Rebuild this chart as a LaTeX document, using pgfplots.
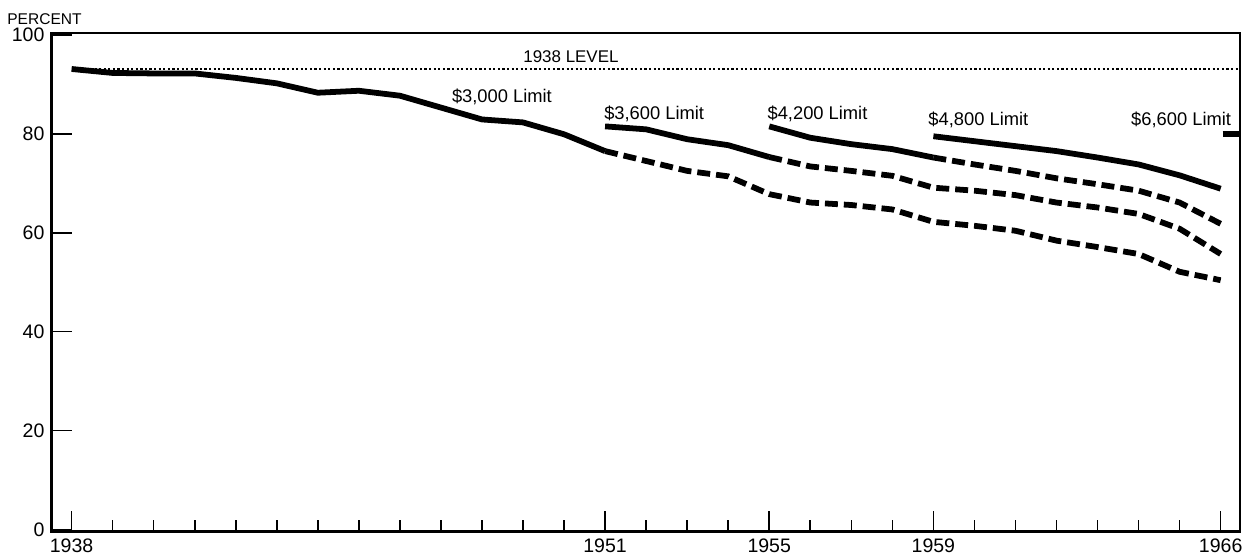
\documentclass[border=0pt]{standalone}
\usepackage{fontspec}
\setmainfont{Liberation Sans}
\usepackage{pgfplots}
\pgfplotsset{compat=1.18}

\begin{document}
\begin{tikzpicture}
\begin{axis}[
    scale only axis,
    width=596.7pt,
    height=250pt,
    xmin=1937.51, xmax=1966.48,
    ymin=-0.4, ymax=100.3,
    xtick={1938,1951,1955,1959,1966},
    minor xtick={1939,1940,1941,1942,1943,1944,1945,1946,1947,1948,1949,1950,
                 1952,1953,1954,1956,1957,1958,1960,1961,1962,1963,1964,1965},
    ytick={0,20,40,60,80,100},
    xtick pos=bottom, ytick pos=left,
    tick align=inside,
    major tick length=10.5pt,
    minor tick length=6pt,
    tick style={black, line width=0.8pt},
    axis line style={line width=1.1pt},
    /pgf/number format/assume math mode=true,
    /pgf/number format/1000 sep={},
    xticklabel style={font=\fontsize{9.8}{11}\selectfont},
    yticklabel style={font=\fontsize{9.8}{11}\selectfont},
    clip=false,
]
% 1938 level
\addplot[black, line width=1.1pt, dash pattern=on 1.1pt off 1.2pt]
  coordinates {(1938,93.1) (1966.48,93.1)};

% $3,000 limit
\addplot[black, line width=2.9pt, line join=round] coordinates {
 (1938,93.1) (1939,92.3) (1940,92.2) (1941,92.2) (1942,91.3) (1943,90.2)
 (1944,88.3) (1945,88.7) (1946,87.7) (1947,85.3) (1948,82.9) (1949,82.3)
 (1950,79.9) (1951,76.5)
};
\addplot[black, line width=2.9pt, dash pattern=on 6.5pt off 3pt] coordinates {
 (1951,76.5) (1952,74.5) (1953,72.5) (1954,71.4) (1955,67.8) (1956,66.1)
 (1957,65.6) (1958,64.7) (1959,62.2) (1960,61.4) (1961,60.4) (1962,58.4)
 (1963,57.1) (1964,55.7) (1965,52.1) (1966,50.4)
};

% $3,600 limit
\addplot[black, line width=2.9pt, line join=round] coordinates {
 (1951,81.5) (1952,80.9) (1953,78.9) (1954,77.7) (1955,75.3)
};
\addplot[black, line width=2.9pt, dash pattern=on 6.5pt off 3pt] coordinates {
 (1955,75.3) (1956,73.4) (1957,72.5) (1958,71.5) (1959,69.1) (1960,68.5)
 (1961,67.6) (1962,66.1) (1963,65.1) (1964,63.8) (1965,60.8) (1966,55.7)
};

% $4,200 limit
\addplot[black, line width=2.9pt, line join=round] coordinates {
 (1955,81.5) (1956,79.2) (1957,77.9) (1958,76.9) (1959,75.2)
};
\addplot[black, line width=2.9pt, dash pattern=on 6.5pt off 3pt] coordinates {
 (1959,75.2) (1960,73.8) (1961,72.5) (1962,71.0) (1963,69.8) (1964,68.5)
 (1965,66.1) (1966,61.8)
};

% $4,800 limit
\addplot[black, line width=2.9pt, line join=round] coordinates {
 (1959,79.5) (1960,78.5) (1961,77.5) (1962,76.5) (1963,75.2) (1964,73.8)
 (1965,71.6) (1966,68.9)
};

% $6,600 limit
\addplot[black, line width=2.9pt] coordinates {(1966.05,80.0) (1966.48,80.0)};

\node[anchor=base west, inner sep=0, font=\fontsize{8.5}{10}\selectfont]
  at (axis cs:1949.0,94.4) {1938 LEVEL};
\node[anchor=base west, inner sep=0, font=\fontsize{9.2}{11}\selectfont]
  at (axis cs:1947.26,86.4) {\$3,000 Limit};
\node[anchor=base west, inner sep=0, font=\fontsize{9.2}{11}\selectfont]
  at (axis cs:1950.97,82.9) {\$3,600 Limit};
\node[anchor=base west, inner sep=0, font=\fontsize{9.2}{11}\selectfont]
  at (axis cs:1954.95,82.9) {\$4,200 Limit};
\node[anchor=base west, inner sep=0, font=\fontsize{9.2}{11}\selectfont]
  at (axis cs:1958.87,81.6) {\$4,800 Limit};
\node[anchor=base west, inner sep=0, font=\fontsize{9.2}{11}\selectfont]
  at (axis cs:1963.81,81.7) {\$6,600 Limit};
\node[anchor=base west, inner sep=0, font=\fontsize{7.8}{9}\selectfont,
      xshift=-22.35pt, yshift=4.25pt]
  at (rel axis cs:0,1) {PERCENT};

% page frame with the reference's proportions
\path (rel axis cs:-0.0433,-0.042) rectangle (rel axis cs:1.0036,1.067);
\end{axis}
\end{tikzpicture}
\end{document}
